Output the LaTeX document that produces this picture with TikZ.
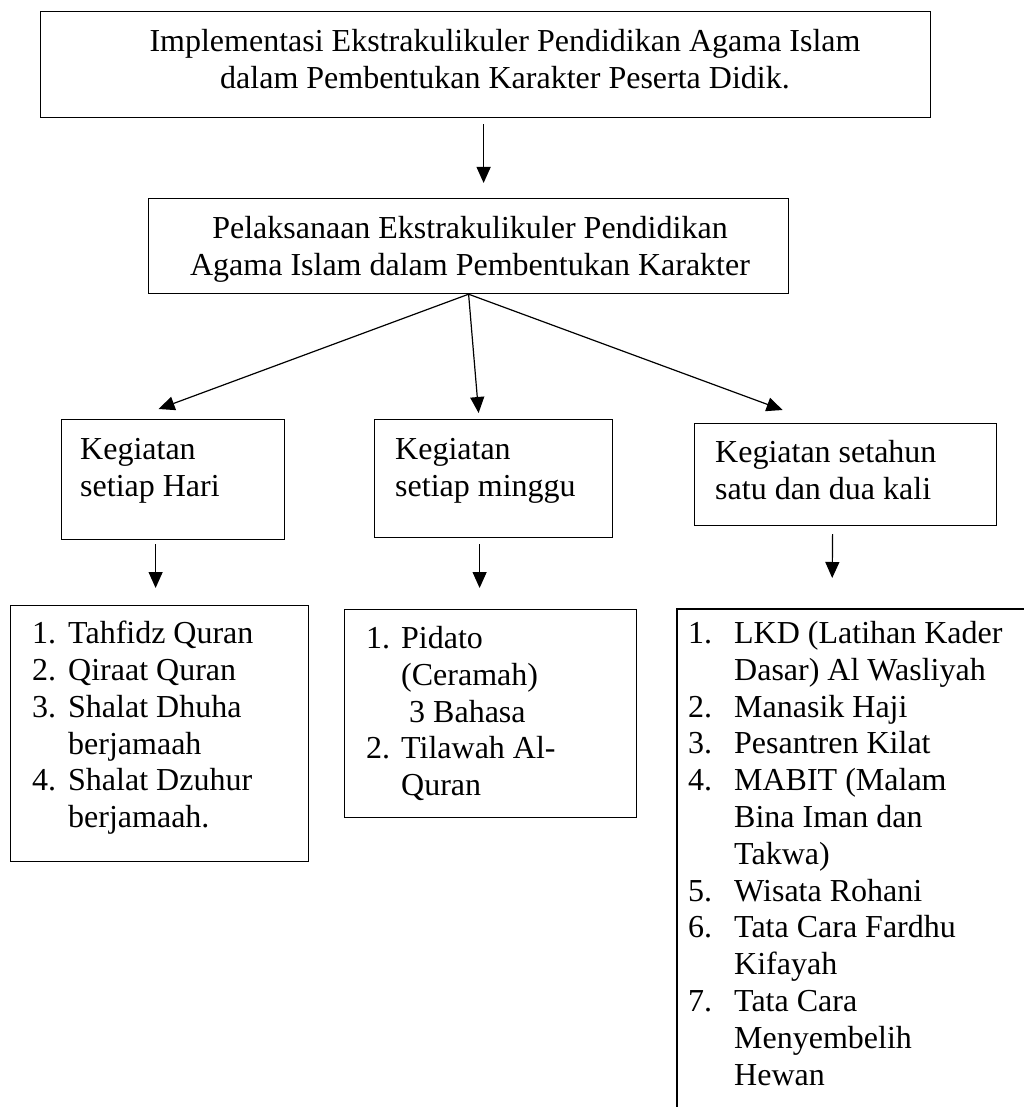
\documentclass[tikz,border=0pt]{standalone}
\usepackage{fontspec}
\setmainfont{Liberation Serif}
\usetikzlibrary{arrows.meta}
\newcommand\numA[1]{\makebox[36pt][l]{#1}}
\newcommand\numB[1]{\makebox[35pt][l]{#1}}
\newcommand\numC[1]{\makebox[46pt][l]{#1}}
\begin{document}
\begin{tikzpicture}[x=1pt,y=-1pt,
  box/.style={draw=black, line width=1.2pt, inner sep=0pt, anchor=north west},
  txt/.style={inner sep=0pt, font=\fontsize{32}{36.8}\selectfont},
  arr/.style={draw=black, line width=1.2pt, -{Triangle[width=14pt,length=16pt]}},
  edge/.style={draw=black, line width=1.2pt},
]
\useasboundingbox (0,0) rectangle (1024,1107);

% level 1
\node[box, minimum width=890pt, minimum height=106pt] (b1) at (40,11) {};
\node[txt, align=center, anchor=north] (t1) at (505,29)
  {Implementasi Ekstrakulikuler Pendidikan Agama Islam\\dalam Pembentukan Karakter Peserta Didik.};

% level 2
\node[box, minimum width=640pt, minimum height=95pt] (b2) at (148,198) {};
\node[txt, align=center, anchor=north] (t2) at (470,216)
  {Pelaksanaan Ekstrakulikuler Pendidikan\\Agama Islam dalam Pembentukan Karakter};

% level 3
\node[box, minimum width=223pt, minimum height=120pt] (b3a) at (61,419) {};
\node[txt, align=left, anchor=north west] (t3a) at (80,438) {Kegiatan\\setiap Hari};
\node[box, minimum width=238pt, minimum height=118pt] (b3b) at (374,419) {};
\node[txt, align=left, anchor=north west] (t3b) at (395,438) {Kegiatan\\setiap minggu};
\node[box, minimum width=302pt, minimum height=102pt] (b3c) at (694,423) {};
\node[txt, align=left, anchor=north west] (t3c) at (715,440) {Kegiatan setahun\\satu dan dua kali};

% level 4
\node[box, minimum width=298pt, minimum height=256pt] (b4a) at (10,605) {};
\node[txt, align=left, anchor=north west] (t4a) at (32,621)
  {\numA{1.}Tahfidz Quran\\
   \numA{2.}Qiraat Quran\\
   \numA{3.}Shalat Dhuha\\
   \hspace*{36pt}berjamaah\\
   \numA{4.}Shalat Dzuhur\\
   \hspace*{36pt}berjamaah.};

\node[box, minimum width=292pt, minimum height=208pt] (b4b) at (344,609) {};
\node[txt, align=left, anchor=north west] (t4b) at (366,626)
  {\numB{1.}Pidato\\
   \hspace*{35pt}(Ceramah)\\
   \hspace*{43pt}3 Bahasa\\
   \numB{2.}Tilawah Al-\\
   \hspace*{35pt}Quran};

\node[inner sep=0pt, anchor=north west, minimum width=360pt, minimum height=510pt] (b4c) at (677,609) {};
\draw[edge] (b4c.north east) -- (b4c.north west) -- (b4c.south west);
\node[txt, align=left, anchor=north west] (t4c) at (688,621)
  {\numC{1.}LKD (Latihan Kader\\
   \hspace*{46pt}Dasar) Al Wasliyah\\
   \numC{2.}Manasik Haji\\
   \numC{3.}Pesantren Kilat\\
   \numC{4.}MABIT (Malam\\
   \hspace*{46pt}Bina Iman dan\\
   \hspace*{46pt}Takwa)\\
   \numC{5.}Wisata Rohani\\
   \numC{6.}Tata Cara Fardhu\\
   \hspace*{46pt}Kifayah\\
   \numC{7.}Tata Cara\\
   \hspace*{46pt}Menyembelih\\
   \hspace*{46pt}Hewan};

% connectors
\draw[arr] ([xshift=-2pt,yshift=-6pt]b1.south) -- ([xshift=15pt,yshift=15pt]b2.north);
\draw[arr] (b2.south) -- ([xshift=-14.5pt,yshift=10pt]b3a.north);
\draw[arr] (b2.south) -- ([xshift=-15pt,yshift=6pt]b3b.north);
\draw[arr] (b2.south) -- ([xshift=-63pt,yshift=13pt]b3c.north);
\draw[arr] ([xshift=-17.5pt,yshift=-4pt]b3a.south) -- ([xshift=-4pt,yshift=17pt]b4a.north);
\draw[arr] ([xshift=-14pt,yshift=-6pt]b3b.south) -- ([xshift=-11pt,yshift=21pt]b4b.north);
\draw[arr] ([xshift=-13pt,yshift=-8pt]b3c.south) -- ([xshift=-25pt,yshift=31pt]b4c.north);
\end{tikzpicture}
\end{document}
